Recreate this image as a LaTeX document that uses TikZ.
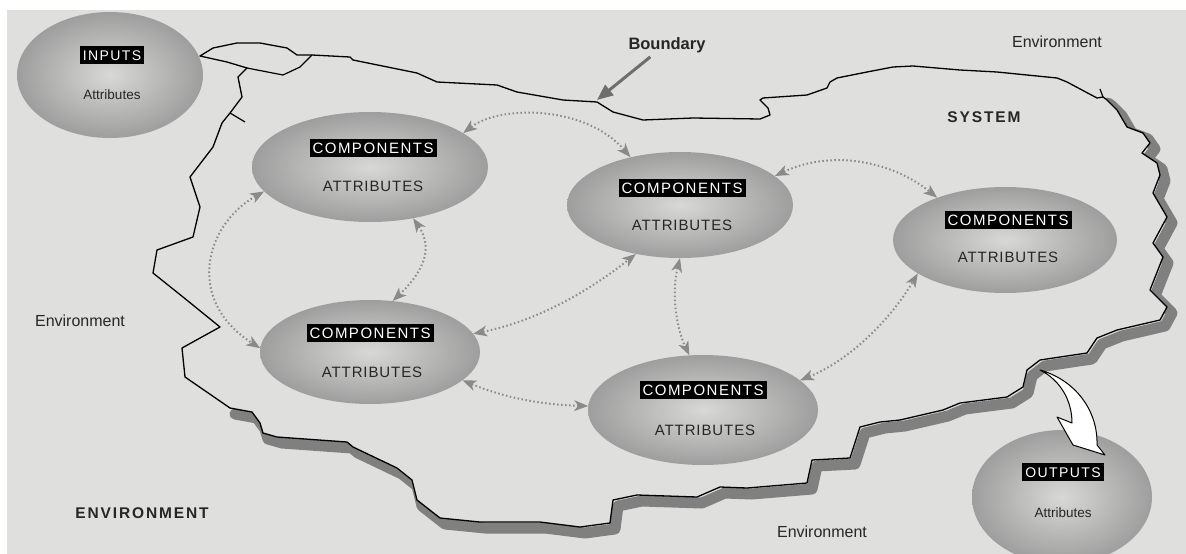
\documentclass[tikz,border=0pt]{standalone}
\usepackage{fontspec}
\setmainfont{Liberation Sans}
\usetikzlibrary{arrows.meta,shapes.geometric}
\definecolor{paper}{HTML}{DFDFDD}
\definecolor{shadowc}{HTML}{808080}
\definecolor{dotc}{HTML}{8A8A8A}
\definecolor{ellout}{HTML}{9E9E9E}
\definecolor{ellin}{HTML}{D8D8D6}
\definecolor{arrowc}{HTML}{6E6E6E}
\newfontfamily\labfont[LetterSpace=10]{Liberation Sans}
\newfontfamily\attrfont[LetterSpace=6]{Liberation Sans}
\newfontfamily\spacedbold[LetterSpace=12]{Liberation Sans}
\tikzset{
  blob/.style={ellipse, draw=none, inner sep=0pt, shading=radial, inner color=ellin, outer color=ellout},
  tag/.style={fill=black, text=white, font=\labfont\fontsize{15}{15}\selectfont, inner xsep=3pt, inner ysep=3.5pt, text height=11pt, text depth=0pt},
  smalltag/.style={tag, font=\labfont\fontsize{14}{14}\selectfont, text height=10.5pt},
  attr/.style={text=black!85, font=\attrfont\fontsize{15}{15}\selectfont, inner sep=0pt},
  attrsmall/.style={text=black!85, font=\fontsize{13.5}{13.5}\selectfont, inner sep=0pt},
  envtext/.style={text=black!85, font=\fontsize{16}{16}\selectfont, inner sep=0pt},
  boldtext/.style={text=black!85, font=\spacedbold\bfseries\fontsize{15.5}{15.5}\selectfont, inner sep=0pt},
  plainbold/.style={text=black!85, font=\bfseries\fontsize{16.5}{16.5}\selectfont, inner sep=0pt},
  link/.style={dotc, line width=2pt, dash pattern=on 1.5pt off 2.5pt,
    {Stealth[length=14pt,width=11pt,inset=4pt,fill=dotc,color=dotc,line width=0pt]}-{Stealth[length=14pt,width=11pt,inset=4pt,fill=dotc,color=dotc,line width=0pt]}}
}
\begin{document}
\begin{tikzpicture}[x=1pt,y=-1pt]
\fill[white] (0,0) rectangle (1186,554);
\fill[paper] (7,10) rectangle (1186,554);
\useasboundingbox (0,0) rectangle (1186,554);

% shadow of the boundary
\draw[shadowc, line width=11pt, line join=round, line cap=round, shift={(5,6)}]
 (1103,97) -- (1107,100) -- (1117,110) -- (1127,127) -- (1143,133) -- (1150,143) -- (1142,153)
 -- (1157,163) -- (1160,175) -- (1153,193) -- (1167,217) -- (1153,243) -- (1163,257) -- (1150,290)
 -- (1167,307) -- (1160,320) -- (1117,330) -- (1097,338) -- (1087,353) -- (1040,360) -- (1027,370)
 -- (1023,387) -- (1007,397) -- (960,403) -- (943,410) -- (900,420) -- (880,422) -- (860,427)
 -- (850,458) -- (812,460) -- (807,483) -- (747,488) -- (720,487) -- (697,497) -- (637,495)
 -- (613,500) -- (610,523) -- (580,527) -- (540,522) -- (480,522) -- (440,518) -- (417,500)
 -- (412,480) -- (397,468) -- (353,447) -- (347,442) -- (277,437) -- (263,433) -- (260,423)
 -- (252,412) -- (230,408);

% boundary
\draw[black, line width=1.3pt, line join=round, fill=paper]
 (200,56) -- (213,48) -- (237,43) -- (260,43) -- (287,48) -- (297,55) -- (312,55) -- (350,57)
 -- (353,60) -- (417,73) -- (437,82) -- (497,85) -- (517,92) -- (563,100) -- (597,102) -- (613,112)
 -- (643,120) -- (693,118) -- (760,119) -- (770,115) -- (768,108) -- (760,100) -- (763,98) -- (807,95)
 -- (827,88) -- (830,82) -- (837,78) -- (867,72) -- (893,67) -- (913,66) -- (960,70) -- (997,72)
 -- (1057,78) -- (1067,82) -- (1097,98) -- (1103,97)
 -- (1107,100) -- (1117,110) -- (1127,127) -- (1143,133) -- (1150,143) -- (1142,153)
 -- (1157,163) -- (1160,175) -- (1153,193) -- (1167,217) -- (1153,243) -- (1163,257) -- (1150,290)
 -- (1167,307) -- (1160,320) -- (1117,330) -- (1097,338) -- (1087,353) -- (1040,360) -- (1027,370)
 -- (1023,387) -- (1007,397) -- (960,403) -- (943,410) -- (900,420) -- (880,422) -- (860,427)
 -- (850,458) -- (812,460) -- (807,483) -- (747,488) -- (720,487) -- (697,497) -- (637,495)
 -- (613,500) -- (610,523) -- (580,527) -- (540,522) -- (480,522) -- (440,518) -- (417,500)
 -- (412,480) -- (397,468) -- (353,447) -- (347,442) -- (277,437) -- (263,433) -- (260,423)
 -- (252,412) -- (230,408) -- (185,377) -- (182,348) -- (220,327) -- (183,297) -- (153,273)
 -- (157,250) -- (193,237) -- (200,207) -- (190,177) -- (213,147) -- (222,123) -- (230,113)
 -- (242,97) -- (238,77) -- (247,68) -- (227,62) -- cycle;
\draw[black, line width=1.2pt, line join=round] (247,68) -- (283,75) -- (300,67) -- (312,55);
\draw[black, line width=1.2pt] (230,113) -- (245,122);
\draw[black, line width=1.2pt] (1103,97) -- (1100,89);

% ellipses
\node[blob, minimum width=186pt, minimum height=126pt] (inp) at (110,75) {};
\node[blob, minimum width=236pt, minimum height=110pt] (c1) at (370,167) {};
\node[blob, minimum width=226pt, minimum height=106pt] (c2) at (680,205) {};
\node[blob, minimum width=224pt, minimum height=106pt] (c3) at (1005,240) {};
\node[blob, minimum width=220pt, minimum height=104pt] (c4) at (370,352) {};
\node[blob, minimum width=230pt, minimum height=110pt] (c5) at (703,410) {};
\node[blob, minimum width=180pt, minimum height=134pt] (outp) at (1062,497) {};

% labels
\node[smalltag] (inpt) at (112,55) {INPUTS};
\node[attrsmall] (inpa) at (112,95) {Attributes};
\node[tag] (c1t) at (373,148) {COMPONENTS};
\node[attr] (c1a) at (373,186) {ATTRIBUTES};
\node[tag] (c2t) at (682,188) {COMPONENTS};
\node[attr] (c2a) at (682,225) {ATTRIBUTES};
\node[tag] (c3t) at (1008,220) {COMPONENTS};
\node[attr] (c3a) at (1008,257) {ATTRIBUTES};
\node[tag] (c4t) at (370,333) {COMPONENTS};
\node[attr] (c4a) at (372,372) {ATTRIBUTES};
\node[tag] (c5t) at (703,390) {COMPONENTS};
\node[attr] (c5a) at (705,430) {ATTRIBUTES};
\node[smalltag] (outt) at (1063,472) {OUTPUTS};
\node[attrsmall] (outa) at (1063,513) {Attributes};

% output arrow
\draw[black, line width=1pt, line join=round, fill=white]
 (1040,370) .. controls (1075,380) and (1098,410) .. (1097,445) -- (1105,455) -- (1073,445)
 -- (1057,417) -- (1072,423) .. controls (1072,400) and (1060,380) .. (1040,370) -- cycle;

% dotted links
\draw[link] (c1.20) .. controls (500,105) and (585,105) .. (c2.136);
\draw[link] (c2.17) .. controls (830,150) and (890,160) .. (c3.148);
\draw[link] (c1.193) .. controls (205,225) and (185,300) .. (c4.178);
\draw[link] (c1.-50) .. controls (435,250) and (420,275) .. (c4.66);
\draw[link] (c4.10) .. controls (540,320) and (590,290) .. (c2.-132);
\draw[link] (c2.-90) .. controls (672,290) and (675,325) .. (c5.104);
\draw[link] (c4.-17) .. controls (510,400) and (550,405) .. (c5.178);
\draw[link] (c5.17) .. controls (850,360) and (890,320) .. (c3.201);

% texts
\node[plainbold] (bnd) at (667,45) {Boundary};
\coordinate (bndtip) at (597,100);
\draw[arrowc, line width=3pt, -{Triangle[length=16pt,width=13pt]}] (bnd.south west) ++(22,4) -- (bndtip);
\node[envtext] (envtr) at (1057,42) {Environment};
\node[boldtext] (sys) at (984,117) {SYSTEM};
\node[envtext] (envl) at (80,321) {Environment};
\node[boldtext] (envbig) at (142,513) {ENVIRONMENT};
\node[envtext] (envb) at (822,532) {Environment};
\end{tikzpicture}
\end{document}
